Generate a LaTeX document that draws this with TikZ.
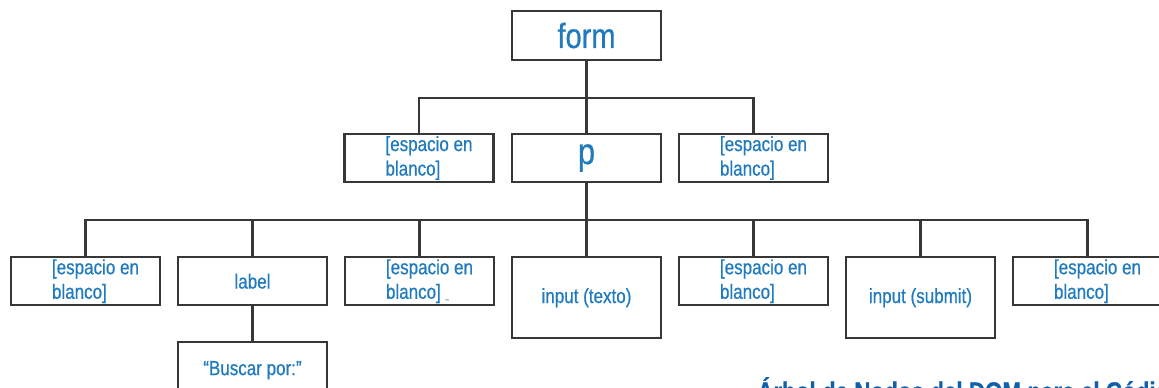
\documentclass[tikz,border=0pt]{standalone}
\usepackage{fontspec}
\setmainfont{Liberation Sans}[FakeStretch=0.83,FakeBold=0.6]
\definecolor{domblue}{RGB}{32,122,190}
\definecolor{domline}{RGB}{55,55,55}
\definecolor{captionblue}{RGB}{16,96,170}

% texto de los nodos vacios, algo desplazado a la derecha
\newcommand{\espacio}[1][]{\hspace*{20pt}[espacio en\\\hspace*{20pt}blanco]#1}

\begin{document}
\begin{tikzpicture}[x=1pt,y=-1pt,
	box/.style={draw=domline,line width=2.4pt,minimum width=149pt,minimum height=48pt,inner sep=2pt,text=domblue,font=\fontsize{20.5}{24.5}\selectfont,align=left},
	tallbox/.style={box,minimum height=81pt},
	bigbox/.style={box,minimum height=49pt,font=\fontsize{35}{40}\selectfont},
	link/.style={draw=domline,line width=2.4pt}]

		\path[use as bounding box,clip] (0,0) rectangle (1159,388);

		\node[bigbox] (form) at (586.5,35.5) {form};

		\node[box] (blank1) at (419,158) {\espacio};
		\node[bigbox,minimum height=48pt,font=\fontsize{37}{42}\selectfont] (p) at (586.5,158) {p};
		\node[box] (blank2) at (753.5,158) {\espacio};

		\node[box,anchor=north] (blank3) at (85.5,256) {\espacio};
		\node[box,anchor=north] (label) at (252.5,256) {label};
		\node[box,anchor=north] (blank4) at (419.5,256) {\espacio[\ {\scriptsize\_}]};
		\node[tallbox,anchor=north] (texto) at (586.5,256) {input (texto)};
		\node[box,anchor=north] (blank5) at (753.5,256) {\espacio};
		\node[tallbox,anchor=north] (submit) at (920.5,256) {input (submit)};
		\node[box,anchor=north] (blank6) at (1087.5,256) {\espacio};

		\node[box,anchor=north,minimum height=56pt] (buscar) at (252.5,341) {“Buscar por:”};

		\node[anchor=base west,inner sep=0pt,text=captionblue,font=\bfseries\fontsize{27}{30}\selectfont] (caption) at (757,401) {Árbol de Nodos del DOM para el Código};

		\foreach \dest in {blank1, p, blank2}
		\draw[link] (form.south) -- ++(0,37) -| (\dest.north);

		\foreach \dest in {blank3, label, blank4, texto, blank5, submit, blank6}
		\draw[link] (p.south) -- ++(0,37) -| (\dest.north);

		\draw[link] (label) -- (buscar);

	\end{tikzpicture}
\end{document}
